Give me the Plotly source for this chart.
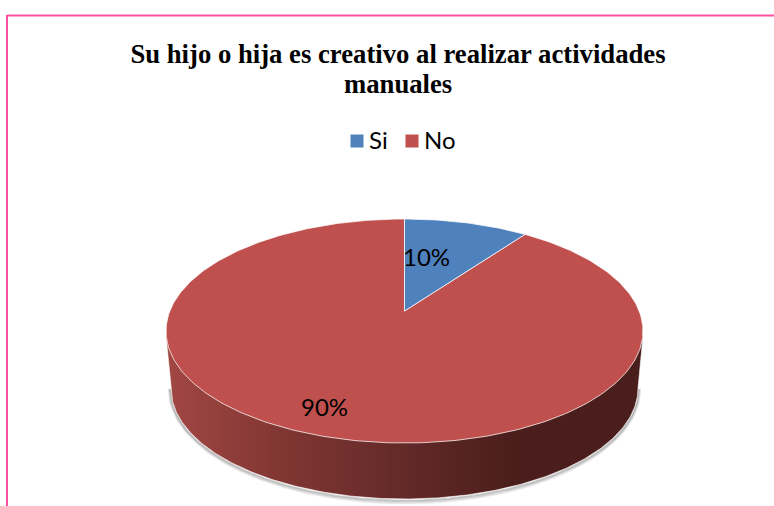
import numpy as np
import plotly.graph_objects as go

categories = ["Si", "No"]
values = [10, 90]
colors = ["#4F81BD", "#BF504D"]
title_line_1 = "<b>Su hijo o hija es creativo al realizar actividades</b>"
title_line_2 = "<b>manuales</b>"

W, H = 774, 506
CX, CY, RX, RY = 404.5, 331.0, 238.5, 112.0
APEX_DY = 20.0
BX, BY, BRX, BRY = 404.5, 388.5, 233.5, 110.5

# perspective projection of a unit circle (u right, v to the back)
c = APEX_DY / RY
a = RY
d = RX * np.sqrt(1 - (APEX_DY / RY) ** 2)


def project(theta):
    u, v = np.sin(theta), np.cos(theta)
    den = 1 + c * v
    return CX + d * u / den, CY - (a * v + APEX_DY) / den


def slice_path(start, end):
    t = np.linspace(start, end, max(int(abs(end - start) * 60), 8))
    x, y = project(t)
    ax, ay = CX, CY - APEX_DY
    return [ax, *x.tolist(), ax], [ay, *y.tolist(), ay]


fig = go.Figure()

# soft shadow below the wall
xs = np.linspace(-1, 1, 300)
for off, op in [(4, 0.10), (3, 0.14), (2, 0.2), (1, 0.3)]:
    fig.add_trace(go.Scatter(
        x=BX + (BRX + off * 0.6) * xs,
        y=BY + (BRY + off) * np.sqrt(1 - xs ** 2) + 0.5,
        mode="lines", line=dict(color=f"rgba(110,110,110,{op})", width=2),
        showlegend=False, hoverinfo="skip"))

# side wall of the disc
tb = np.linspace(np.pi, 0, 300)
wx = [CX - RX, *(BX + BRX * np.cos(tb)).tolist(), CX + RX]
wy = [CY + 5, *(BY + BRY * np.sin(tb)).tolist(), CY + 5]
fig.add_trace(go.Scatter(
    x=wx, y=wy, mode="lines", fill="toself",
    line=dict(color="rgba(255,255,255,0.6)", width=1),
    fillgradient=dict(
        type="horizontal", start=CX - RX, stop=CX + RX,
        colorscale=[[0, "#A24743"], [0.25, "#803633"], [0.5, "#632A28"],
                    [0.72, "#4B1E1C"], [1, "#4A1E1C"]]),
    showlegend=False, hoverinfo="skip"))

# top slices, clockwise from twelve o'clock
total = sum(values)
angle = 0.0
order = [1, 0]
spans = []
for v in values:
    spans.append((angle, angle + 2 * np.pi * v / total))
    angle += 2 * np.pi * v / total
for i in order:
    x, y = slice_path(*spans[i])
    fig.add_trace(go.Scatter(
        x=x, y=y, mode="lines", fill="toself", fillcolor=colors[i],
        line=dict(color="rgba(255,255,255,0.75)", width=1),
        showlegend=False, hoverinfo="skip"))

# legend row: swatch and name for each category
fig.add_trace(go.Scatter(
    x=[357, 412], y=[141, 141], mode="markers",
    marker=dict(symbol="square", size=13, color=colors),
    showlegend=False, hoverinfo="skip"))
fig.add_trace(go.Scatter(
    x=[369, 424], y=[143, 143], mode="text", text=categories,
    textposition="middle right",
    textfont=dict(family="Lato", size=24, color="#000000"),
    showlegend=False, hoverinfo="skip"))

label_pos = [(426, 256), (324, 406)]
annotations = [
    dict(x=px, y=py, xref="x", yref="y", text=f"{v}%", showarrow=False,
         font=dict(family="Lato", size=24, color="#000000"))
    for v, (px, py) in zip(values, label_pos)
]
annotations.append(dict(x=398, y=83.5, xref="x", yref="y", text=title_line_2, showarrow=False,
                        font=dict(family="Liberation Serif", size=26.7, color="#000000")))

fig.update_layout(
    width=W, height=H, margin=dict(l=0, r=0, t=0, b=0),
    paper_bgcolor="white", plot_bgcolor="white", showlegend=False,
    title=dict(text=title_line_1, x=398 / W, xanchor="center", y=1 - 54 / H, yanchor="middle",
               font=dict(family="Liberation Serif", size=26.7, color="#000000")),
    xaxis=dict(range=[0, W], visible=False, fixedrange=True),
    yaxis=dict(range=[H, 0], visible=False, fixedrange=True),
    annotations=annotations,
    shapes=[
        dict(type="line", xref="x", yref="y", x0=7, x1=W, y0=15.5, y1=15.5,
             line=dict(color="#FF4FA3", width=2)),
        dict(type="line", xref="x", yref="y", x0=7, x1=7, y0=15, y1=H,
             line=dict(color="#FF4FA3", width=2)),
    ],
)

fig.write_html("out.html", config=dict(displayModeBar=False),
               post_script="document.body.style.margin='0';")
